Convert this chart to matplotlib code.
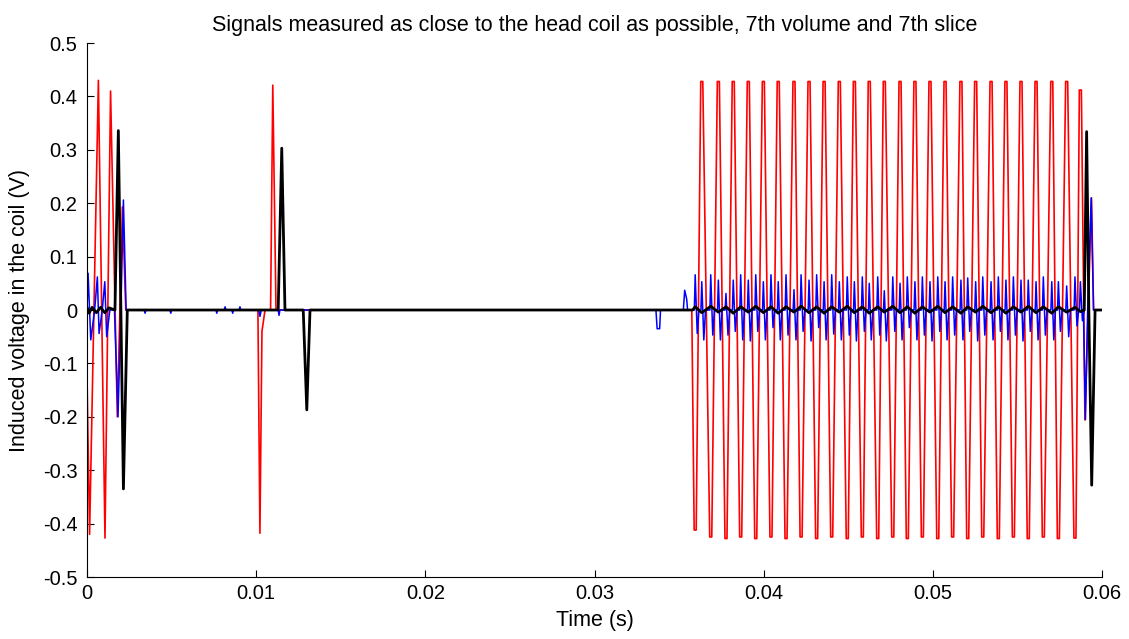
######
#
# plot.py
#
# Head-coil induced voltage traces (7th volume, 7th slice), three channels.
#
######

#%% Imports and fonts

import matplotlib
matplotlib.use('Agg')

import matplotlib.pyplot as plt

plt.rcParams['font.family'] = ['Liberation Sans', 'DejaVu Sans']


#%% Data (times in ms, voltages in V)

# Red channel: first burst, second pulse pair, readout train, tail
red_burst_t = [0.00, 0.15, 0.67, 1.06, 1.39, 1.79, 2.09, 2.29]
red_burst_v = [-0.13, -0.42, 0.43, -0.427, 0.41, -0.20, 0.193, 0.0]

red_pulse_t = [10.10, 10.22, 10.34, 10.52, 10.85, 10.98, 11.17]
red_pulse_v = [0.0, -0.418, -0.04, 0.0, 0.0, 0.421, 0.0]

# Extremum times of the readout oscillation (trough, peak, trough, ...)
train_t = [35.95, 36.34, 36.87, 37.32, 37.77, 38.20, 38.64, 39.09, 39.53, 39.98,
           40.43, 40.86, 41.32, 41.79, 42.21, 42.68, 43.13, 43.57, 44.02, 44.47,
           44.94, 45.36, 45.83, 46.24, 46.74, 47.13, 47.63, 48.06, 48.49, 48.94,
           49.38, 49.83, 50.29, 50.72, 51.17, 51.66, 52.06, 52.53, 52.95, 53.44,
           53.87, 54.32, 54.76, 55.21, 55.64, 56.10, 56.53, 57.03, 57.42, 57.91,
           58.40, 58.72]
red_train_v = [-0.412, 0.428, -0.425, 0.428, -0.428, 0.428, -0.425, 0.428, -0.428, 0.428,
               -0.425, 0.428, -0.428, 0.428, -0.425, 0.428, -0.428, 0.428, -0.425, 0.428,
               -0.428, 0.428, -0.425, 0.428, -0.428, 0.428, -0.425, 0.428, -0.428, 0.428,
               -0.425, 0.428, -0.428, 0.428, -0.425, 0.428, -0.428, 0.428, -0.425, 0.428,
               -0.428, 0.428, -0.425, 0.428, -0.428, 0.428, -0.425, 0.428, -0.428, 0.428,
               -0.427, 0.412]

red_tail_t = [58.99, 59.38, 59.50, 60.00]
red_tail_v = [-0.206, 0.21, 0.0, 0.0]

# Blue channel
blue_burst_t = [0.00, 0.06, 0.22, 0.45, 0.61, 0.71, 0.90, 1.05, 1.16, 1.35,
                1.62, 1.83, 2.00, 2.15, 2.31]
blue_burst_v = [0.0, 0.069, -0.056, 0.0, 0.062, -0.044, 0.0, 0.053, -0.05, 0.0,
                0.0, -0.20, 0.0, 0.206, 0.0]

blue_quiet_t = [3.38, 3.43, 3.48, 4.90, 4.95, 5.00, 7.62, 7.67, 7.72, 8.11, 8.16, 8.21,
                8.56, 8.61, 8.66, 8.99, 9.04, 9.09, 10.15, 10.22, 10.30, 11.30, 11.35, 11.40,
                33.63, 33.70, 33.85, 33.90, 35.25, 35.33, 35.45, 35.50]
blue_quiet_v = [0.0, -0.006, 0.0, 0.0, -0.006, 0.0, 0.0, -0.006, 0.0, 0.0, 0.006, 0.0,
                0.0, -0.006, 0.0, 0.0, 0.006, 0.0, 0.0, -0.012, 0.0, 0.0, -0.01, 0.0,
                0.0, -0.035, -0.035, 0.0, 0.0, 0.037, 0.02, 0.0]

# Blue spike pair at each extremum of the train: up, then down
blue_up = [0.066, 0.053, 0.066, 0.056, 0.031, 0.056, 0.066, 0.056, 0.066, 0.053,
           0.066, 0.053, 0.066, 0.038, 0.066, 0.056, 0.066, 0.053, 0.066, 0.053,
           0.062, 0.053, 0.062, 0.050, 0.062, 0.036, 0.062, 0.050, 0.062, 0.053,
           0.062, 0.053, 0.062, 0.053, 0.062, 0.056, 0.060, 0.053, 0.062, 0.053,
           0.062, 0.056, 0.062, 0.056, 0.056, 0.053, 0.062, 0.053, 0.053, 0.045,
           0.062, 0.053]
blue_dn = [-0.044, -0.056, -0.047, -0.056, -0.047, -0.040, -0.056, -0.058, -0.040, -0.056,
           -0.033, -0.056, -0.047, -0.056, -0.040, -0.058, -0.033, -0.056, -0.045, -0.056,
           -0.047, -0.058, -0.040, -0.056, -0.047, -0.058, -0.040, -0.056, -0.033, -0.056,
           -0.047, -0.058, -0.040, -0.056, -0.047, -0.056, -0.040, -0.058, -0.047, -0.056,
           -0.040, -0.056, -0.047, -0.058, -0.040, -0.056, -0.047, -0.056, -0.040, -0.050,
           -0.030, -0.020]

blue_tail_t = [58.90, 59.02, 59.15, 59.36, 59.50, 60.00]
blue_tail_v = [0.0, -0.205, 0.0, 0.21, 0.0, 0.0]

# Black channel
black_burst_t = [0.00, 0.12, 0.30, 0.55, 0.80, 1.05, 1.30, 1.65, 1.85, 2.00, 2.15, 2.38]
black_burst_v = [0.005, -0.006, 0.005, -0.005, 0.005, -0.005, 0.004, 0.0, 0.336, 0.0, -0.335, 0.0]

black_pulse_t = [11.30, 11.51, 11.70, 12.78, 12.99, 13.18]
black_pulse_v = [0.0, 0.303, 0.0, 0.0, -0.187, 0.0]

# Small ripple on the black trace during the train (one value per extremum)
black_ripple = [0.006, -0.005, 0.007, -0.004, 0.006, -0.006, 0.006, -0.004, 0.007, -0.005,
                0.006, -0.006, 0.006, -0.004, 0.007, -0.005, 0.006, -0.006, 0.006, -0.004,
                0.007, -0.005, 0.006, -0.006, 0.006, -0.004, 0.007, -0.005, 0.006, -0.006,
                0.006, -0.004, 0.007, -0.005, 0.006, -0.006, 0.006, -0.004, 0.007, -0.005,
                0.006, -0.006, 0.006, -0.004, 0.007, -0.005, 0.006, -0.006, 0.006, -0.004,
                0.005, -0.003]

black_tail_t = [58.95, 59.09, 59.22, 59.39, 59.59, 60.00]
black_tail_v = [0.0, 0.334, 0.0, -0.328, 0.0, 0.0]

x_ticks = [0, 0.01, 0.02, 0.03, 0.04, 0.05, 0.06]
x_tick_labels = ['0', '0.01', '0.02', '0.03', '0.04', '0.05', '0.06']
y_ticks = [-0.5, -0.4, -0.3, -0.2, -0.1, 0, 0.1, 0.2, 0.3, 0.4, 0.5]
y_tick_labels = ['-0.5', '-0.4', '-0.3', '-0.2', '-0.1', '0', '0.1', '0.2', '0.3', '0.4', '0.5']


#%% Assemble the traces

# Red holds each train extremum briefly (flat tops, steep edges)
RED_HOLD = 0.06

# Blue spike shape around each train extremum (ms offsets)
SPIKE_LEAD = 0.05
SPIKE_DOWN = 0.12
SPIKE_END = 0.22

red_train_tt = []
red_train_vv = []
for tk, vk in zip(train_t, red_train_v):
    red_train_tt += [tk - RED_HOLD, tk + RED_HOLD]
    red_train_vv += [vk, vk]

red_t = red_burst_t + red_pulse_t + [35.75] + red_train_tt + red_tail_t
red_v = red_burst_v + red_pulse_v + [0.0] + red_train_vv + red_tail_v

blue_train_t = []
blue_train_v = []
for tk, up, dn in zip(train_t, blue_up, blue_dn):
    blue_train_t += [tk - SPIKE_LEAD, tk, tk + SPIKE_DOWN, tk + SPIKE_END]
    blue_train_v += [0.0, up, dn, 0.0]

blue_t = blue_burst_t + blue_quiet_t + blue_train_t + blue_tail_t
blue_v = blue_burst_v + blue_quiet_v + blue_train_v + blue_tail_v

black_t = black_burst_t + black_pulse_t + [35.8] + train_t + black_tail_t
black_v = black_burst_v + black_pulse_v + [0.0] + black_ripple + black_tail_v

ms = 1e-3


#%% Plot

fig = plt.figure(figsize=(11.29, 6.39), dpi=100)
ax = fig.add_axes([0.0771, 0.0970, 0.8990, 0.8357])

ax.plot([t * ms for t in red_t], red_v, color='#ff0000', linewidth=1.2)
ax.plot([t * ms for t in blue_t], blue_v, color='#0000ff', linewidth=1.1)
ax.plot([t * ms for t in black_t], black_v, color='black', linewidth=2.0)

ax.set_xlim(0, 0.06)
ax.set_ylim(-0.5, 0.5)
ax.set_xticks(x_ticks)
ax.set_xticklabels(x_tick_labels)
ax.set_yticks(y_ticks)
ax.set_yticklabels(y_tick_labels)

ax.spines['top'].set_visible(False)
ax.spines['right'].set_visible(False)
ax.tick_params(direction='in', length=5, width=0.8, labelsize=14.5)
ax.tick_params(axis='y', pad=7)
ax.tick_params(axis='x', pad=5)

ax.set_title('Signals measured as close to the head coil as possible, 7th volume and 7th slice',
             fontsize=15.5, pad=9)
ax.set_xlabel('Time (s)', fontsize=15.5, labelpad=5)
ax.set_ylabel('Induced voltage in the coil (V)', fontsize=15.5, labelpad=9)

plt.savefig('out.png', dpi=100)
